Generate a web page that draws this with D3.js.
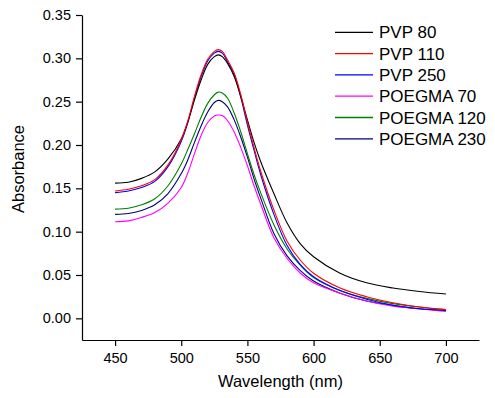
<!DOCTYPE html>
<html>
<head>
<meta charset="utf-8">
<script src="https://cdn.jsdelivr.net/npm/d3@7"></script>
<style>
  body { margin: 0; background: #fff; }
  text { font-family: "Liberation Sans", Arial, sans-serif; fill: #000; }
</style>
</head>
<body>
<svg id="chart" width="495" height="398"></svg>
<script>
const wavelengths = [450, 460, 470, 480, 490, 500, 505, 510, 515, 520, 525, 528, 531, 535, 540, 545, 550, 555, 560, 570, 580, 590, 600, 620, 640, 660, 680, 700];

const pvp80 = [0.156, 0.157, 0.1615, 0.169, 0.184, 0.207, 0.227, 0.252, 0.275, 0.293, 0.302, 0.304, 0.302, 0.294, 0.279, 0.256, 0.229, 0.203, 0.181, 0.144, 0.110, 0.086, 0.071, 0.052, 0.041, 0.035, 0.031, 0.028];
const pvp110 = [0.147, 0.149, 0.153, 0.160, 0.177, 0.206, 0.228, 0.256, 0.281, 0.299, 0.308, 0.310, 0.308, 0.298, 0.283, 0.258, 0.226, 0.197, 0.170, 0.125, 0.089, 0.067, 0.052, 0.035, 0.025, 0.018, 0.013, 0.010];
const pvp250 = [0.145, 0.147, 0.151, 0.158, 0.175, 0.204, 0.226, 0.254, 0.279, 0.297, 0.306, 0.308, 0.306, 0.296, 0.281, 0.255, 0.223, 0.194, 0.166, 0.120, 0.084, 0.062, 0.048, 0.032, 0.022, 0.015, 0.011, 0.009];
const poegma70 = [0.1115, 0.1125, 0.1165, 0.122, 0.133, 0.151, 0.168, 0.190, 0.211, 0.226, 0.2335, 0.2346, 0.234, 0.228, 0.215, 0.197, 0.176, 0.153, 0.132, 0.093, 0.069, 0.052, 0.041, 0.029, 0.020, 0.014, 0.011, 0.008];
const poegma120 = [0.126, 0.127, 0.131, 0.138, 0.153, 0.178, 0.195, 0.213, 0.232, 0.248, 0.258, 0.261, 0.260, 0.254, 0.237, 0.215, 0.190, 0.166, 0.145, 0.108, 0.080, 0.061, 0.047, 0.032, 0.023, 0.017, 0.013, 0.010];
const poegma230 = [0.120, 0.121, 0.1245, 0.131, 0.144, 0.167, 0.183, 0.203, 0.222, 0.238, 0.249, 0.2515, 0.250, 0.244, 0.229, 0.209, 0.186, 0.161, 0.139, 0.098, 0.072, 0.055, 0.043, 0.029, 0.020, 0.015, 0.011, 0.009];

const seriesNames = ["PVP 80", "PVP 110", "PVP 250", "POEGMA 70", "POEGMA 120", "POEGMA 230"];
const seriesValues = [pvp80, pvp110, pvp250, poegma70, poegma120, poegma230];
const seriesColors = ["#000000", "#ff0000", "#0000ff", "#ff00ff", "#008000", "#000080"];

const xMajor = [450, 500, 550, 600, 650, 700];
const yMajor = [0.00, 0.05, 0.10, 0.15, 0.20, 0.25, 0.30, 0.35];

const margin = { top: 15, right: 16, bottom: 58, left: 82 };
const width = 495, height = 398;

const svg = d3.select("#chart");

const x = d3.scaleLinear().domain([425, 725]).range([margin.left, width - margin.right]);
const y = d3.scaleLinear().domain([-0.025, 0.35]).range([height - margin.bottom, margin.top]);

// series lines
const line = d3.line()
  .x((d) => x(d[0]))
  .y((d) => y(d[1]))
  .curve(d3.curveCatmullRom.alpha(0.5));

// draw in reverse so black/red sit on top like the original
const order = [5, 4, 3, 2, 0, 1];
svg.append("g")
  .selectAll("path")
  .data(order)
  .join("path")
  .attr("fill", "none")
  .attr("stroke", (i) => seriesColors[i])
  .attr("stroke-width", 1.1)
  .attr("d", (i) => line(wavelengths.map((w, j) => [w, seriesValues[i][j]])));

// x axis
const xAxis = svg.append("g").attr("transform", `translate(0,${height - margin.bottom})`);
xAxis.call(d3.axisBottom(x).tickValues(d3.range(425, 726, 25)).tickSize(3).tickFormat(""))
  .call((g) => g.select(".domain").remove());
xAxis.call(d3.axisBottom(x).tickValues(xMajor).tickSize(6).tickSizeOuter(0).tickPadding(7).tickFormat(d3.format("d")));
xAxis.selectAll("text").attr("font-size", 14.5).attr("font-family", "Liberation Sans, Arial, sans-serif");
xAxis.selectAll("line, path").attr("stroke", "#000").attr("stroke-width", 1.2);

// y axis
const yAxis = svg.append("g").attr("transform", `translate(${margin.left},0)`);
yAxis.call(d3.axisLeft(y).tickValues(d3.range(-0.025, 0.351, 0.025)).tickSize(3).tickFormat(""))
  .call((g) => g.select(".domain").remove());
yAxis.call(d3.axisLeft(y).tickValues(yMajor).tickSize(6).tickSizeOuter(0).tickPadding(5).tickFormat(d3.format(".2f")));
yAxis.selectAll("text").attr("font-size", 14.5).attr("font-family", "Liberation Sans, Arial, sans-serif");
yAxis.selectAll("line, path").attr("stroke", "#000").attr("stroke-width", 1.2);

// axis titles
svg.append("text")
  .attr("x", (margin.left + width - margin.right) / 2)
  .attr("y", 387)
  .attr("text-anchor", "middle")
  .attr("font-size", 16.5)
  .text("Wavelength (nm)");

svg.append("text")
  .attr("transform", "translate(24,169) rotate(-90)")
  .attr("text-anchor", "middle")
  .attr("font-size", 16.5)
  .text("Absorbance");

// legend
const legend = svg.append("g")
  .selectAll("g")
  .data(seriesNames)
  .join("g")
  .attr("transform", (d, i) => `translate(335,${32.3 + i * 21.3})`);

legend.append("line")
  .attr("x1", 0).attr("x2", 38)
  .attr("stroke", (d, i) => seriesColors[i])
  .attr("stroke-width", 1.3);

legend.append("text")
  .attr("x", 44)
  .attr("dy", "0.36em")
  .attr("font-size", 17)
  .text((d) => d);
</script>
</body>
</html>
